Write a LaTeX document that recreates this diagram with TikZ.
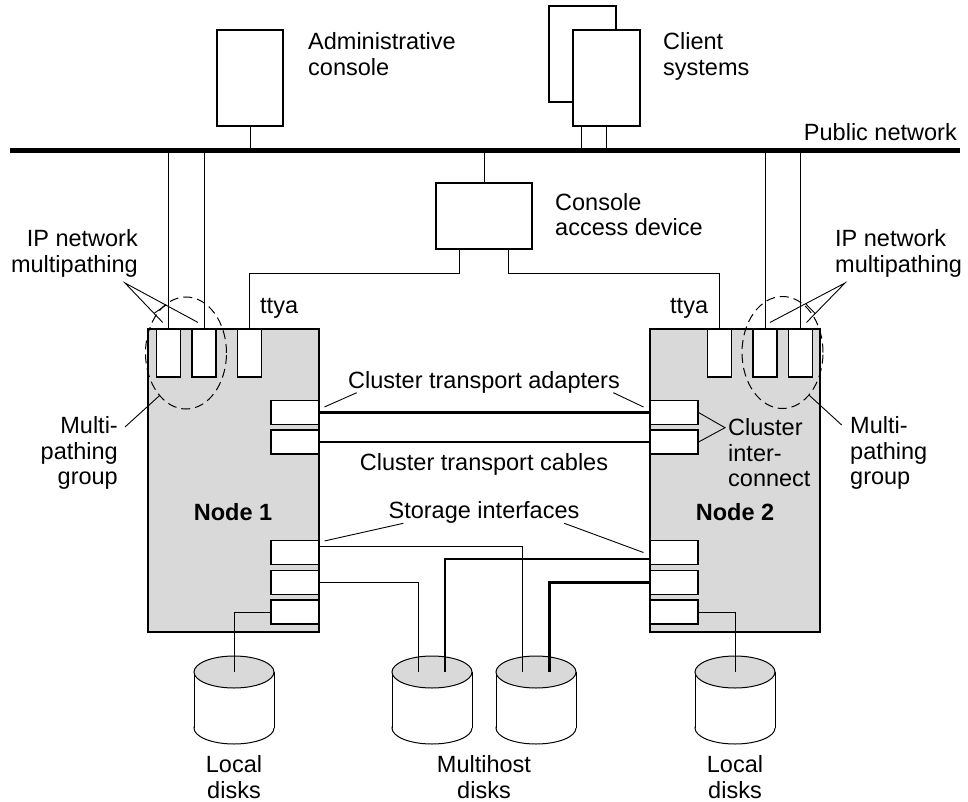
\documentclass[tikz,border=0pt]{standalone}
\usepackage{fontspec}
\setmainfont{Liberation Sans}
\usetikzlibrary{calc,shapes.geometric}
\newcommand\drawdisk[2]{%
  \coordinate (#1) at (#2,672);
  \coordinate (#1-bot) at (#2,728);
  \draw[diskline, fill=white] (#1-bot) ellipse[x radius=40pt, y radius=16pt];
  \fill[white] (#2-40,672) rectangle (#2+40,728);
  \draw[diskline] (#2-40,672) -- (#2-40,728);
  \draw[diskline] (#2+40,672) -- (#2+40,728);
  \draw[diskline, fill=gray!30] (#1) ellipse[x radius=40pt, y radius=16pt];
}
\begin{document}
\begin{tikzpicture}[x=1pt,y=-1pt,
  font=\fontsize{23.5}{25.5}\selectfont,
  thinline/.style={line width=1pt},
  cable/.style={line width=2.5pt},
  diskline/.style={line width=1pt},
  pointer/.style={line width=0.9pt},
  hostbox/.style={draw, fill=white, line width=1.1pt, inner sep=0pt},
  nodebox/.style={draw, fill=gray!30, line width=1.1pt, inner sep=0pt},
  vport/.style={draw, fill=white, line width=1.1pt, inner sep=0pt, minimum width=24pt, minimum height=48pt},
  hport/.style={draw, fill=white, line width=1.1pt, inner sep=0pt, minimum width=48pt, minimum height=24pt},
  mpgroup/.style={draw, ellipse, dash pattern=on 9pt off 5pt, line width=1pt, inner sep=0pt, minimum width=81pt, minimum height=112pt},
  lbl/.style={inner sep=0pt}
]
\useasboundingbox (0,0) rectangle (968,802);

% public network
\coordinate (barL) at (10,150.5);
\coordinate (barR) at (960,150.5);

% hosts
\node[hostbox, minimum width=66pt, minimum height=96pt] (admin) at (250,78) {};
\node[hostbox, minimum width=67pt, minimum height=96pt] (clientB) at (582.5,54) {};
\node[hostbox, minimum width=67pt, minimum height=96pt] (clientF) at (606.5,78) {};
\node[hostbox, minimum width=96pt, minimum height=66pt] (cad) at (484,216) {};

% cluster nodes
\node[nodebox, minimum width=171pt, minimum height=303pt] (n1) at (233.5,480.5) {};
\node[nodebox, minimum width=170pt, minimum height=303pt] (n2) at (735,480.5) {};

% top ports
\node[vport] (n1p1) at (168.7,353) {};
\node[vport] (n1p2) at (204,353) {};
\node[vport] (n1tty) at (249.5,353) {};
\node[vport] (n2tty) at (719.3,353) {};
\node[vport] (n2p1) at (765,353) {};
\node[vport] (n2p2) at (800.5,353) {};

% side ports
\node[hport] (n1a1) at (295,412.5) {};
\node[hport] (n1a2) at (295,442) {};
\node[hport] (n1s1) at (295,552.5) {};
\node[hport] (n1s2) at (295,582.5) {};
\node[hport] (n1s3) at (295,612) {};
\node[hport] (n2a1) at (674,412.5) {};
\node[hport] (n2a2) at (674,442) {};
\node[hport] (n2s1) at (674,552.5) {};
\node[hport] (n2s2) at (674,582.5) {};
\node[hport] (n2s3) at (674,612) {};

% multipathing groups
\node[mpgroup] (g1) at (186,353) {};
\node[mpgroup] (g2) at (782.5,352.5) {};

% disks
\drawdisk{ld1}{234}
\drawdisk{md1}{432}
\drawdisk{md2}{536}
\drawdisk{ld2}{735}

% network connections
\coordinate (cl1) at ([xshift=9pt]clientF.south west);
\coordinate (cl2) at ([xshift=-34pt]clientF.south east);
\draw[thinline] (admin.south) -- (admin.south |- barL);
\draw[thinline] (cl1) -- (cl1 |- barL);
\draw[thinline] (cl2) -- (cl2 |- barL);
\draw[thinline] (cad.north) -- (cad.north |- barL);
\draw[thinline] (n1p1.north) -- (n1p1.north |- barL);
\draw[thinline] (n1p2.north) -- (n1p2.north |- barL);
\draw[thinline] (n2p1.north) -- (n2p1.north |- barL);
\draw[thinline] (n2p2.north) -- (n2p2.north |- barL);
\draw[line width=5.5pt] (barL) -- (barR);

% console lines
\coordinate (cadL) at ([xshift=24pt]cad.south west);
\coordinate (cadR) at ([xshift=-24.3pt]cad.south east);
\draw[thinline] (n1tty.north) |- ([yshift=-23.7pt]cadL) -- (cadL);
\draw[thinline] (n2tty.north) |- ([yshift=-23.7pt]cadR) -- (cadR);

% transport cables
\draw[cable] (n1a1.east) -- (n2a1.west);
\draw[cable] (n1a2.east) -- (n2a2.west);

% storage connections
\draw[thinline] ([yshift=5.8pt]n1s1.east) -| ([xshift=-13.3pt]md2);
\draw[thinline] (n1s2.east) -| ([xshift=-13.7pt]md1);
\draw[cable] ([yshift=-6.5pt]n2s1.west) -| ([xshift=13pt]md1);
\draw[cable] (n2s2.west) -| ([xshift=13.3pt]md2);
\draw[thinline] (n1s3.west) -| (ld1);
\draw[thinline] (n2s3.east) -| (ld2);

% texts (base anchor = baseline of last line)
\node[lbl, anchor=base west, align=left] (admintxt) at (308,75.5) {Administrative\\console};
\node[lbl, anchor=base west, align=left] (clienttxt) at (663,75.5) {Client\\systems};
\node[lbl, anchor=base east] (pubtxt) at (957,141) {Public network};
\node[lbl, anchor=base west, align=left] (cadtxt) at (555,236) {Console\\access device};
\node[lbl, anchor=base east, align=right] (ipL) at (138,272) {IP network\\multipathing};
\node[lbl, anchor=base west, align=left] (ipR) at (835,272) {IP network\\multipathing};
\node[lbl, anchor=base west] (ttyL) at (260,313) {ttya};
\node[lbl, anchor=base west] (ttyR) at (670,313) {ttya};
\node[lbl, anchor=base east, align=right] (mpL) at (118,484.5) {Multi-\\pathing\\group};
\node[lbl, anchor=base west, align=left] (mpR) at (850,484.5) {Multi-\\pathing\\group};
\node[lbl, anchor=base west, align=left] (citxt) at (728,486.5) {Cluster\\inter-\\connect};
\node[lbl, anchor=base] (cta) at (484,388) {Cluster transport adapters};
\node[lbl, anchor=base] (ctc) at (484,470.7) {Cluster transport cables};
\node[lbl, anchor=base] (stor) at (484,518.3) {Storage interfaces};
\node[lbl, anchor=base] (n1lbl) at (233,520.7) {\textbf{Node 1}};
\node[lbl, anchor=base] (n2lbl) at (735,520.7) {\textbf{Node 2}};
\node[lbl, anchor=base, align=center] (ldL) at (234,798) {Local\\disks};
\node[lbl, anchor=base, align=center] (mhd) at (484,798) {Multihost\\disks};
\node[lbl, anchor=base, align=center] (ldR) at (735,798) {Local\\disks};

% pointers: IP network multipathing
\coordinate (ipLa) at (125,283);
\coordinate (ipL1) at ([shift={(-6,-6)}]n1p1.north);
\coordinate (ipL2) at ([shift={(-6,-6)}]n1p2.north);
\draw[pointer] (ipL1) -- (ipLa) -- (ipL2);
\draw[pointer] ($(ipLa)!0.77!(ipL1)$) -- ($(ipLa)!0.56!(ipL2)$);
\coordinate (ipRa) at (845,283);
\coordinate (ipR1) at ([shift={(5,-6)}]n2p1.north);
\coordinate (ipR2) at ([shift={(6,-6)}]n2p2.north);
\draw[pointer] (ipR1) -- (ipRa) -- (ipR2);
\draw[pointer] ($(ipRa)!0.525!(ipR1)$) -- ($(ipRa)!0.775!(ipR2)$);

% pointers: multipathing groups
\coordinate (mpLa) at (125,427);
\coordinate (mpRa) at (841.7,425);
\draw[pointer] (mpLa) -- (g1.238);
\draw[pointer] (mpRa) -- (g2.302);

% pointers: adapters
\coordinate (ctaL) at (356.7,392.7);
\coordinate (ctaR) at (613.3,392.7);
\draw[pointer] (ctaL) -- ([shift={(5,7)}]n1a1.north east);
\draw[pointer] (ctaR) -- ([shift={(-6,7)}]n2a1.north west);

% pointers: storage interfaces
\coordinate (storL) at (403.3,523.3);
\coordinate (storR) at (564.3,523.3);
\draw[pointer] (storL) -- ([shift={(5,1)}]n1s1.north east);
\draw[pointer] (storR) -- ([xshift=-6pt]n2s1.west);

% cluster interconnect
\coordinate (ciP) at (725,427.7);
\draw[pointer] (n2a1.east) -- (ciP) -- (n2a2.east);
\end{tikzpicture}
\end{document}
